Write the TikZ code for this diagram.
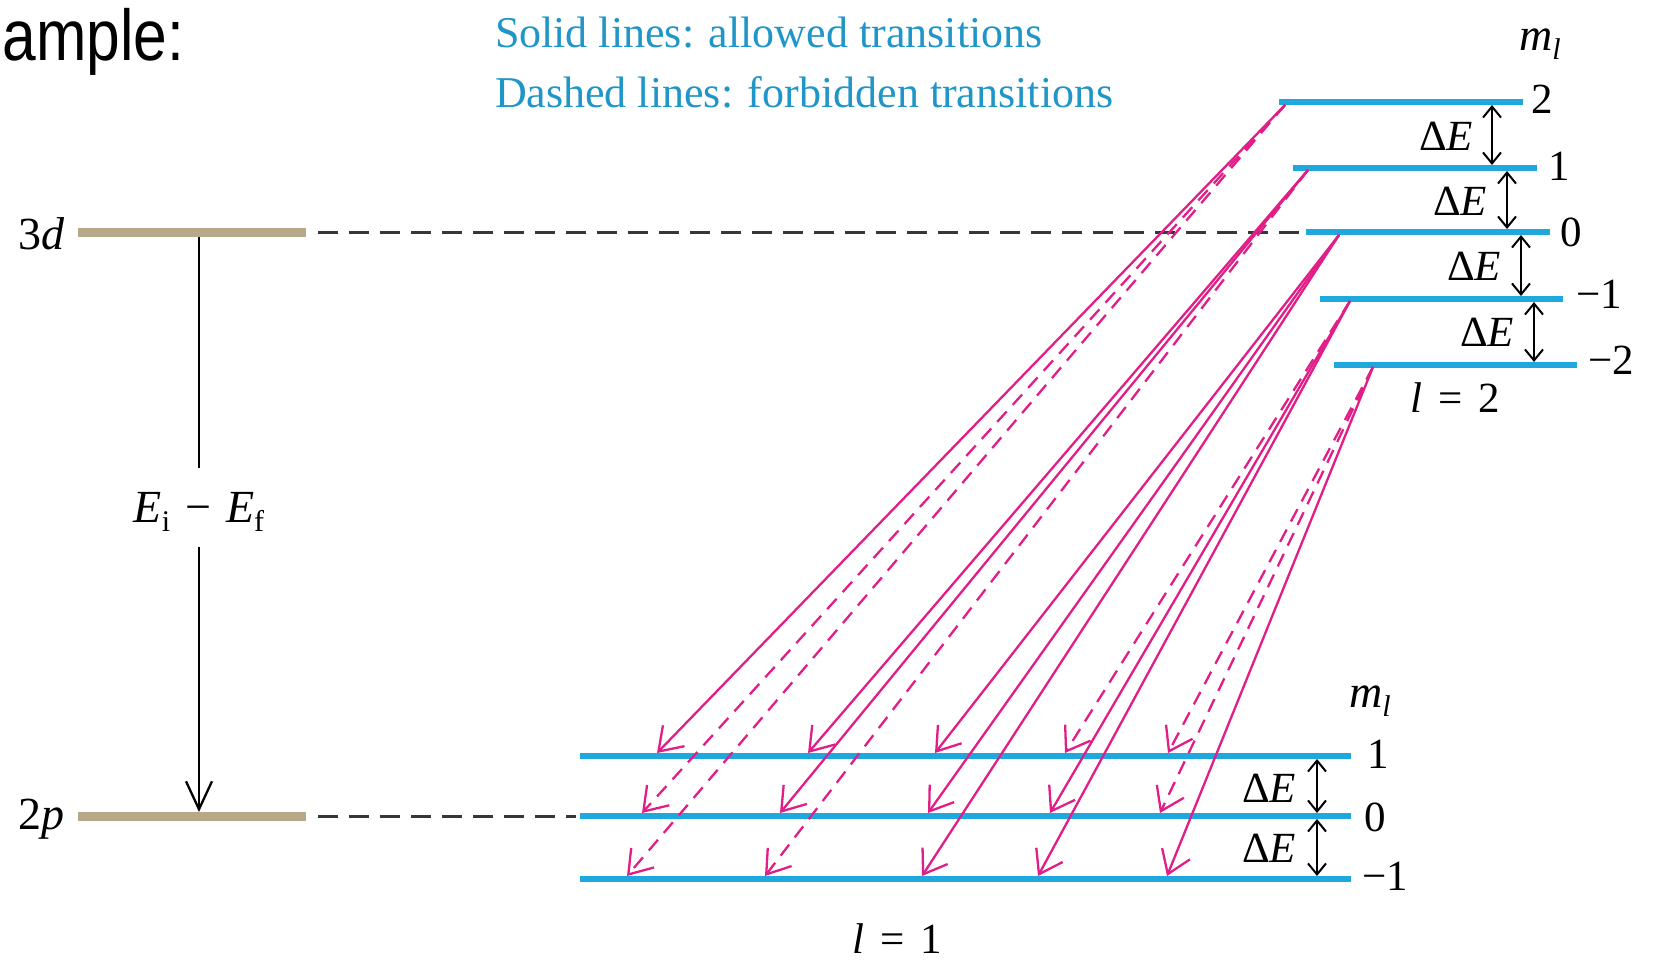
\documentclass[tikz,border=0pt]{standalone}
\usepackage{fontspec}
\setmainfont{Liberation Serif}
\newfontfamily\arialfont{Liberation Sans}
\usetikzlibrary{arrows.meta}
\definecolor{lvlblue}{RGB}{30,168,222}
\definecolor{legblue}{RGB}{32,150,200}
\definecolor{tanbar}{RGB}{183,168,138}
\definecolor{trmag}{RGB}{225,30,135}
\definecolor{refgray}{RGB}{55,55,55}
\newcommand\lsub[1]{\raisebox{-9pt}{\fontsize{30}{31}\selectfont #1}}
\begin{document}
\begin{tikzpicture}[x=1pt,y=-1pt,
  every node/.style={inner sep=0pt,outer sep=0pt},
  lvlline/.style={line width=5.5pt,draw=lvlblue},
  tanline/.style={line width=9pt,draw=tanbar},
  refdash/.style={line width=3pt,draw=refgray,dash pattern=on 20pt off 11pt},
  allowed/.style={draw=trmag,line width=2.3pt,-{Straight Barb[length=22pt,width=30pt]}},
  forbidden/.style={allowed,dash pattern=on 14pt off 9pt},
  dearrow/.style={draw=black,line width=2pt,{Straight Barb[length=11pt,width=18pt]}-{Straight Barb[length=11pt,width=18pt]}},
  gaparrow/.style={draw=black,line width=2.3pt,-{Straight Barb[length=28pt,width=26pt]}},
  lbl/.style={font=\fontsize{43}{48}\selectfont},
  biglbl/.style={font=\fontsize{46}{50}\selectfont},
  leg/.style={font=\fontsize{44}{50}\selectfont,text=legblue},
]
\useasboundingbox (0,0) rectangle (1660,962);

% title fragment and legend
\node[anchor=base east,font=\arialfont\fontsize{72}{80}\selectfont] (ex) at (184,60) {\scalebox{0.84}[1]{ample:}};
\node[leg,anchor=base west] (leg1) at (495,47) {Solid lines: allowed transitions};
\node[leg,anchor=base west] (leg2) at (495,107) {Dashed lines: forbidden transitions};

% left levels
\coordinate (d3L) at (78,232);  \coordinate (d3R) at (306,232);
\coordinate (p2L) at (78,816);  \coordinate (p2R) at (306,816);
\draw[tanline] (d3L) -- (d3R);
\draw[tanline] (p2L) -- (p2R);
\node[biglbl,anchor=base east] (lab3d) at (65,249) {3\textit{d}};
\node[biglbl,anchor=base east] (lab2p) at (65,829) {2\textit{p}};

% energy difference arrow
\coordinate (vtop) at (199,237); \coordinate (vgapT) at (199,468);
\node[biglbl] (eif) at (199,512) {\textit{E}\lsub{i}\hspace{15pt}−\hspace{15pt}\textit{E}\lsub{f}};
\coordinate (vgapB) at (199,547); \coordinate (vtip) at (199,812);
\draw[line width=2.3pt] (vtop) -- (vgapT);
\draw[gaparrow] (vgapB) -- (vtip);

% dashed reference lines
\coordinate (dA) at (318,232); \coordinate (dB) at (1300,232);
\coordinate (dC) at (318,816); \coordinate (dD) at (576,816);
\draw[refdash] (dA) -- (dB);
\draw[refdash] (dC) -- (dD);

% upper levels (l = 2)
\coordinate (u2L) at (1279,102);  \coordinate (u2R) at (1523,102);
\coordinate (u1L) at (1293,168);  \coordinate (u1R) at (1537,168);
\coordinate (u0L) at (1306,232);  \coordinate (u0R) at (1550,232);
\coordinate (um1L) at (1320,299); \coordinate (um1R) at (1563,299);
\coordinate (um2L) at (1334,365); \coordinate (um2R) at (1577,365);
\foreach \n in {u2,u1,u0,um1,um2} \draw[lvlline] (\n L) -- (\n R);
\node[lbl,anchor=west] (nu2) at (1531,99) {2};
\node[lbl,anchor=west] (nu1) at (1548,166) {1};
\node[lbl,anchor=west] (nu0) at (1560,232) {0};
\node[lbl,anchor=west] (num1) at (1576,294) {−1};
\node[lbl,anchor=west] (num2) at (1588,360) {−2};
\node[biglbl,anchor=base] (mlu) at (1540,50) {\textit{m}\lsub{\textit{l}}};
\node[lbl,anchor=base] (l2) at (1455,412) {\textit{l}\hspace{16pt}=\hspace{16pt}2};

% Delta E upper
\coordinate (a1t) at (1492,105); \coordinate (a1b) at (1492,165);
\coordinate (a2t) at (1507,171); \coordinate (a2b) at (1507,229);
\coordinate (a3t) at (1521,235); \coordinate (a3b) at (1521,296);
\coordinate (a4t) at (1534,302); \coordinate (a4b) at (1534,362);
\foreach \n in {a1,a2,a3,a4} \draw[dearrow] (\n t) -- (\n b);
\node[lbl,anchor=east] (de1) at (1473,136) {Δ\textit{E}};
\node[lbl,anchor=east] (de2) at (1487,201) {Δ\textit{E}};
\node[lbl,anchor=east] (de3) at (1501,266) {Δ\textit{E}};
\node[lbl,anchor=east] (de4) at (1514,332) {Δ\textit{E}};

% lower levels (l = 1)
\coordinate (w1L) at (580,756);  \coordinate (w1R) at (1351,756);
\coordinate (w0L) at (580,816);  \coordinate (w0R) at (1351,816);
\coordinate (wm1L) at (580,879); \coordinate (wm1R) at (1351,879);
\foreach \n in {w1,w0,wm1} \draw[lvlline] (\n L) -- (\n R);
\node[lbl,anchor=west] (nw1) at (1367,754) {1};
\node[lbl,anchor=west] (nw0) at (1364,817) {0};
\node[lbl,anchor=west] (nwm1) at (1362,876) {−1};
\node[biglbl,anchor=base] (mll) at (1370,707) {\textit{m}\lsub{\textit{l}}};
\node[lbl,anchor=base] (l1) at (897,953) {\textit{l}\hspace{16pt}=\hspace{16pt}1};

% Delta E lower
\coordinate (b1t) at (1317,759); \coordinate (b1b) at (1317,813);
\coordinate (b2t) at (1317,819); \coordinate (b2b) at (1317,876);
\foreach \n in {b1,b2} \draw[dearrow] (\n t) -- (\n b);
\node[lbl,anchor=east] (de5) at (1296,788) {Δ\textit{E}};
\node[lbl,anchor=east] (de6) at (1296,848) {Δ\textit{E}};

% transitions
\coordinate (s2) at (1285,105);
\coordinate (s1) at (1308,170);
\coordinate (s0) at (1339,235);
\coordinate (sm1) at (1350,301);
\coordinate (sm2) at (1373,367);

\coordinate (t2a) at (657,753);  \coordinate (t2b) at (642,813);  \coordinate (t2c) at (627,876);
\coordinate (t1a) at (808,753);  \coordinate (t1b) at (780,813);  \coordinate (t1c) at (765,876);
\coordinate (t0a) at (935,753);  \coordinate (t0b) at (928,813);  \coordinate (t0c) at (922,876);
\coordinate (tm1a) at (1065,753); \coordinate (tm1b) at (1050,813); \coordinate (tm1c) at (1038,876);
\coordinate (tm2a) at (1168,753); \coordinate (tm2b) at (1160,813); \coordinate (tm2c) at (1167,876);

\draw[allowed]   (s2) -- (t2a);
\draw[forbidden] (s2) -- (t2b);
\draw[forbidden] (s2) -- (t2c);
\draw[allowed]   (s1) -- (t1a);
\draw[allowed]   (s1) -- (t1b);
\draw[forbidden] (s1) -- (t1c);
\draw[allowed]   (s0) -- (t0a);
\draw[allowed]   (s0) -- (t0b);
\draw[allowed]   (s0) -- (t0c);
\draw[forbidden] (sm1) -- (tm1a);
\draw[allowed]   (sm1) -- (tm1b);
\draw[allowed]   (sm1) -- (tm1c);
\draw[forbidden] (sm2) -- (tm2a);
\draw[forbidden] (sm2) -- (tm2b);
\draw[allowed]   (sm2) -- (tm2c);
\end{tikzpicture}
\end{document}
